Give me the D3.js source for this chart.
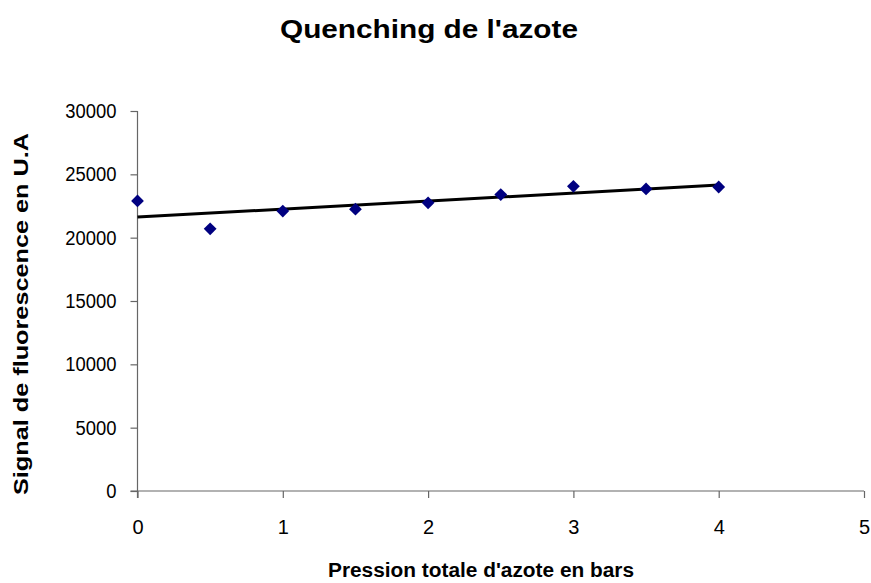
<!DOCTYPE html>
<html>
<head>
<meta charset="utf-8">
<script src="https://cdn.jsdelivr.net/npm/d3@7"></script>
<style>
  html, body { margin: 0; padding: 0; background: #fff; }
  svg { display: block; font-family: "Liberation Sans", Arial, sans-serif; }
</style>
</head>
<body>
<svg id="chart" width="871" height="583"></svg>
<script>
// ---- data ----
const pressure = [0, 0.5, 1, 1.5, 2, 2.5, 3, 3.5, 4];
const signal = [22900, 20700, 22100, 22250, 22750, 23400, 24050, 23850, 24000];
const xTicks = [0, 1, 2, 3, 4, 5];
const yTicks = [0, 5000, 10000, 15000, 20000, 25000, 30000];
const title = "Quenching de l'azote";
const xTitle = "Pression totale d'azote en bars";
const yTitle = "Signal de fluorescence en U.A";

const svg = d3.select("#chart");
const x = d3.scaleLinear().domain([0, 5]).range([137.5, 864]);
const y = d3.scaleLinear().domain([0, 30000]).range([491, 111]);
const axisColor = "#666";

// axes
const yAxis = svg.append("g").attr("transform", `translate(${x(0)},0)`)
  .call(d3.axisLeft(y).tickValues(yTicks).tickSize(7).tickPadding(14).tickFormat(d3.format("d")));
const xAxis = svg.append("g").attr("transform", `translate(0,${y(0)})`)
  .call(d3.axisBottom(x).tickValues(xTicks).tickSize(7).tickPadding(22).tickFormat(d3.format("d")));
[xAxis, yAxis].forEach(g => {
  g.attr("font-size", null).attr("font-family", null);
  g.select(".domain").attr("stroke", axisColor).attr("stroke-width", 1.2);
  g.selectAll(".tick line").attr("stroke", axisColor).attr("stroke-width", 1.2);
  g.selectAll("text").attr("fill", "#000").style("font-size", "20px")
    .style("font-family", "'Liberation Sans', Arial, sans-serif");
});
yAxis.selectAll("text").attr("textLength", function () { return this.getComputedTextLength() * 0.92; })
  .attr("lengthAdjust", "spacingAndGlyphs");
// extend axis lines slightly like excel
yAxis.select(".domain").attr("d", `M0,${y(30000)}V${y(0) + 7}`);
xAxis.select(".domain").attr("d", `M${x(0) - 7},0H${x(5)}`);

// linear regression trendline
const n = pressure.length;
const mx = d3.mean(pressure), my = d3.mean(signal);
let sxy = 0, sxx = 0;
for (let i = 0; i < n; i++) { sxy += (pressure[i] - mx) * (signal[i] - my); sxx += (pressure[i] - mx) ** 2; }
const slope = sxy / sxx, intercept = my - slope * mx;
const xr = d3.extent(pressure);
svg.append("line")
  .attr("x1", x(xr[0])).attr("y1", y(intercept + slope * xr[0]))
  .attr("x2", x(xr[1])).attr("y2", y(intercept + slope * xr[1]))
  .attr("stroke", "#000").attr("stroke-width", 3);

// markers
const sym = d3.symbol(d3.symbolSquare, 82);
svg.append("g").selectAll("path").data(pressure.map((p, i) => [p, signal[i]]))
  .join("path")
  .attr("d", sym)
  .attr("transform", d => `translate(${x(d[0])},${y(d[1])}) rotate(45)`)
  .attr("fill", "#000080");

// titles
svg.append("text").attr("x", 429).attr("y", 38).attr("text-anchor", "middle")
  .style("font-size", "25px").style("font-weight", "bold")
  .attr("textLength", 298).attr("lengthAdjust", "spacingAndGlyphs").text(title);
svg.append("text").attr("x", 481).attr("y", 577).attr("text-anchor", "middle")
  .style("font-size", "20px").style("font-weight", "bold")
  .attr("textLength", 306).attr("lengthAdjust", "spacingAndGlyphs").text(xTitle);
svg.append("text").attr("transform", "translate(28,314) rotate(-90)").attr("text-anchor", "middle")
  .style("font-size", "20px").style("font-weight", "bold")
  .attr("textLength", 362).attr("lengthAdjust", "spacingAndGlyphs").text(yTitle);
</script>
</body>
</html>
